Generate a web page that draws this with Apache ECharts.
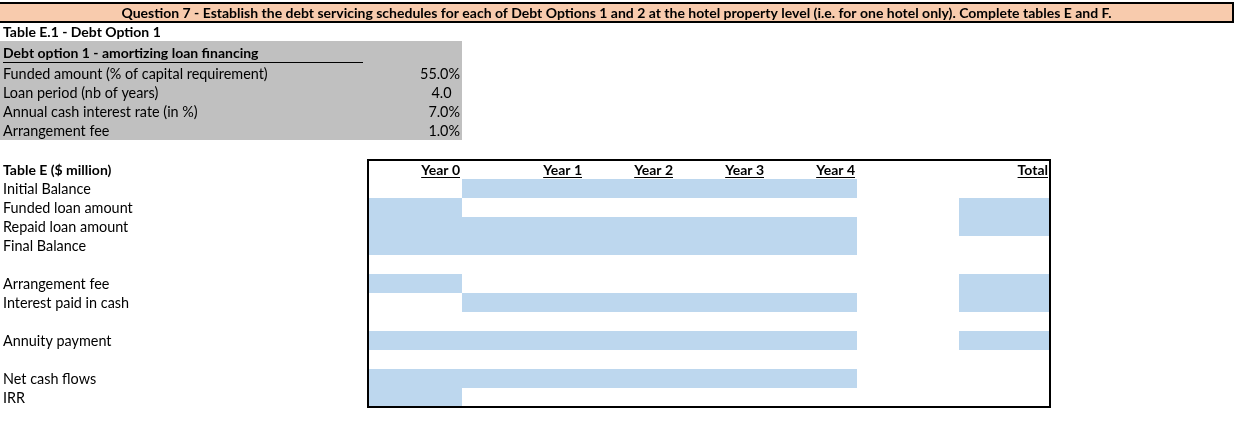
<!DOCTYPE html>
<html><head><meta charset="utf-8">
<script src="https://cdn.jsdelivr.net/npm/echarts@6/dist/echarts.min.js"></script>
<style>html,body{margin:0;padding:0;background:#fff}#c{width:1240px;height:430px}</style>
</head><body><div id="c"></div>
<script>
// ---------------- data ----------------
const title = 'Question 7 - Establish the debt servicing schedules for each of Debt Options 1 and 2 at the hotel property level (i.e. for one hotel only). Complete tables E and F.';
const tableE1Title = 'Table E.1 - Debt Option 1';
const optionTitle = 'Debt option 1 - amortizing loan financing';
const paramLabels = ['Funded amount (% of capital requirement)', 'Loan period (nb of years)', 'Annual cash interest rate (in %)', 'Arrangement fee'];
const paramValues = [0.55, 4.0, 0.07, 0.01];
const paramFormats = ['pct', 'num', 'pct', 'pct'];
const tableETitle = 'Table E ($ million)';
const columnHeaders = ['Year 0', 'Year 1', 'Year 2', 'Year 3', 'Year 4', '', 'Total'];
const rowLabels = ['Initial Balance', 'Funded loan amount', 'Repaid loan amount', 'Final Balance', '', 'Arrangement fee', 'Interest paid in cash', '', 'Annuity payment', '', 'Net cash flows', 'IRR'];
// cells to be completed (1) per row: Year 0..Year 4, gap, Total
const inputCells = [
  [0, 1, 1, 1, 1, 0, 0],
  [1, 0, 0, 0, 0, 0, 1],
  [1, 1, 1, 1, 1, 0, 1],
  [1, 1, 1, 1, 1, 0, 0],
  [0, 0, 0, 0, 0, 0, 0],
  [1, 0, 0, 0, 0, 0, 1],
  [0, 1, 1, 1, 1, 0, 1],
  [0, 0, 0, 0, 0, 0, 0],
  [1, 1, 1, 1, 1, 0, 1],
  [0, 0, 0, 0, 0, 0, 0],
  [1, 1, 1, 1, 1, 0, 0],
  [1, 0, 0, 0, 0, 0, 0]
];

// ---------------- sheet layout (column widths / row heights) ----------------
const colWidths = [368, 94, 122, 91, 91, 91, 102, 91, 183, 7];
const rowHeights = [19, 19, 23, 19, 19, 19, 19, 20, 19, 19, 19, 19, 19, 19, 19, 19, 19, 19, 19, 19, 19];
const colEdge = [0]; colWidths.forEach(w => colEdge.push(colEdge[colEdge.length - 1] + w));
const rowEdge = [0]; rowHeights.forEach(h => rowEdge.push(rowEdge[rowEdge.length - 1] + h));

const FONT = 'Lato, "Open Sans", sans-serif';
const FS = 14.4, FSB = 14;
const NUM_PAD = 8.5; // number format padding (aligns with "%")
const BLUE = '#BDD7EE', GRAY = '#C0C0C0', ORANGE = '#F8CBAD';

const mctx = document.createElement('canvas').getContext('2d');
function measure(s, font) { mctx.font = font; return mctx.measureText(s).width; }
function fmt(v, f) { return f === 'pct' ? (v * 100).toFixed(1) + '%' : v.toFixed(1); }

const items = [];
function rect(c0, c1, r0, r1, fill) { items.push({ k: 'rect', c0, c1, r0, r1, fill }); }
function text(c0, c1, r, str, opt) { items.push(Object.assign({ k: 'text', c0, c1, r0: r, r1: r + 1, str }, opt || {})); }

// title bar
items.push({ k: 'titlebar', c0: 0, c1: 9, r0: 0, r1: 1 });
text(0, 9, 0, title, { align: 'center', bold: true });
text(0, 1, 1, tableE1Title, { bold: true });
// parameters block
rect(0, 2, 2, 7, GRAY);
text(0, 1, 2, optionTitle, { bold: true });
items.push({ k: 'hline', c0: 0, c1: 1, r0: 2, r1: 3 });
paramLabels.forEach((l, i) => {
  text(0, 1, 3 + i, l);
  text(1, 2, 3 + i, fmt(paramValues[i], paramFormats[i]), { align: 'right', padPct: paramFormats[i] !== 'pct' });
});
// table E
const T0 = 8;
text(0, 1, T0, tableETitle, { bold: true });
columnHeaders.forEach((h, j) => { if (h) text(1 + j, 2 + j, T0, h, { align: 'right', bold: true, underline: true }); });
rowLabels.forEach((l, i) => {
  if (l) text(0, 1, T0 + 1 + i, l);
  inputCells[i].forEach((v, j) => { if (v) rect(1 + j, 2 + j, T0 + 1 + i, T0 + 2 + i, BLUE); });
});
items.push({ k: 'box', c0: 1, c1: 8, r0: T0, r1: T0 + 1 + rowLabels.length });

function renderItem(params, api) {
  const d = items[params.dataIndex];
  const p0 = api.coord([colEdge[d.c0], rowEdge[d.r0]]);
  const p1 = api.coord([colEdge[d.c1], rowEdge[d.r1]]);
  const x0 = p0[0], y0 = p0[1], x1 = p1[0], y1 = p1[1];
  switch (d.k) {
    case 'rect':
      return { type: 'rect', shape: { x: x0, y: y0, width: x1 - x0, height: y1 - y0 }, style: { fill: d.fill } };
    case 'titlebar':
      return { type: 'group', children: [
        { type: 'rect', shape: { x: x0, y: y0, width: x1 - x0, height: y1 - y0 }, style: { fill: ORANGE } },
        { type: 'polyline', shape: { points: [[x0 - 2, y0], [x1, y0], [x1, y1], [x0 - 2, y1]] }, style: { stroke: '#000', lineWidth: 2, fill: null } }
      ] };
    case 'box':
      return { type: 'rect', shape: { x: x0, y: y0, width: x1 - x0, height: y1 - y0 }, style: { fill: null, stroke: '#000', lineWidth: 2 } };
    case 'hline':
      return { type: 'line', shape: { x1: x0 + 3, y1: y1 - 1.5, x2: x1 - 5, y2: y1 - 1.5 }, style: { stroke: '#000', lineWidth: 1 } };
    case 'text': {
      const font = (d.bold ? 'bold ' + FSB : FS) + 'px ' + FONT;
      const align = d.align || 'left';
      let x;
      if (align === 'left') x = x0 + 3;
      else if (align === 'right') x = x1 - 2 - (d.padPct ? NUM_PAD : 0);
      else x = (x0 + x1) / 2;
      const yc = (y0 + y1) / 2 + 0.5;
      const children = [{ type: 'text', style: { text: d.str, x: x, y: yc, fill: '#000', font: font, align: align, verticalAlign: 'middle', textAlign: align, textVerticalAlign: 'middle' } }];
      if (d.underline) {
        const w = measure(d.str, font);
        const ux = align === 'right' ? x - w : x;
        children.push({ type: 'line', shape: { x1: ux, y1: yc + 7.5, x2: ux + w, y2: yc + 7.5 }, style: { stroke: '#000', lineWidth: 1 } });
      }
      return { type: 'group', children: children };
    }
  }
}

const chart = echarts.init(document.getElementById('c'), null, { renderer: 'canvas' });
chart.setOption({
  animation: false,
  backgroundColor: '#fff',
  grid: { left: 0, right: 0, top: 3, height: rowEdge[rowEdge.length - 1] },
  xAxis: { type: 'value', min: 0, max: colEdge[colEdge.length - 1], show: false },
  yAxis: { type: 'value', min: 0, max: rowEdge[rowEdge.length - 1], inverse: true, show: false },
  series: [{
    type: 'custom',
    silent: true,
    clip: false,
    renderItem: renderItem,
    data: items.map(d => [colEdge[d.c0], rowEdge[d.r0]])
  }]
});
</script></body></html>
